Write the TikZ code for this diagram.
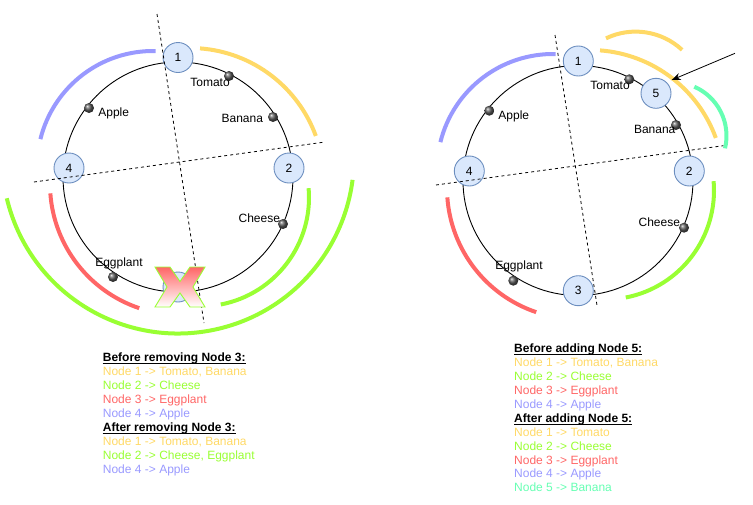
\documentclass[tikz,border=0pt]{standalone}
\usepackage{fontspec}
\setmainfont{Liberation Sans}
\usetikzlibrary{arrows.meta,calc}
\definecolor{cyel}{HTML}{FFD966}
\definecolor{cgrn}{HTML}{99FF33}
\definecolor{cred}{HTML}{FF6666}
\definecolor{cblu}{HTML}{9999FF}
\definecolor{cmint}{HTML}{66FFB3}
\definecolor{nfill}{HTML}{DAE8FC}
\definecolor{nline}{HTML}{6C8EBF}
\begin{document}
\begin{tikzpicture}[x=1pt,y=-1pt,
  ring/.style={draw=black, line width=0.9pt},
  part/.style={line width=4pt},
  divider/.style={draw=black, line width=0.8pt, dash pattern=on 3pt off 3pt},
  hnode/.style={circle, draw=nline, fill=nfill, line width=0.9pt, minimum size=30pt, inner sep=0pt, font=\fontsize{12}{14}\selectfont},
  key/.style={circle, minimum size=10pt, inner sep=0pt, shading=ball, ball color=gray!70!black},
  klabel/.style={anchor=base, inner sep=0pt, font=\fontsize{12}{14}\selectfont},
  txt/.style={anchor=base west, inner sep=0pt, font=\fontsize{12}{14}\selectfont},
  head/.style={txt, font=\fontsize{12}{14}\selectfont\bfseries},
  uline/.style={draw=black, line width=0.9pt},
  cross/.style={draw=cgrn, line width=0.9pt, top color=cred, bottom color=white},
]
\useasboundingbox (0,0) rectangle (753,504);

% ---------------- left diagram ----------------
\draw[ring] (178,177) circle[radius=115];
% arcs
\draw[part, cblu] ($(153,167)+(-88.7:116)$) arc[start angle=-88.7, end angle=-166.1, radius=116];
\draw[part, cyel] ($(190,182)+(-85.7:134)$) arc[start angle=-85.7, end angle=-20.1, radius=134];
\draw[part, cred] ($(181,184)+(175.9:131)$) arc[start angle=175.9, end angle=108.6, radius=131];
\draw[part, cgrn] ($(200,197.5)+(-4.9:109)$) arc[start angle=-4.9, end angle=79, radius=109];
\draw[part, cgrn] ($(178,157.5)+(166.6:176)$) arc[start angle=166.6, end angle=7.3, radius=176];

\node[hnode] (l1) at (178,57.5) {1};
\node[hnode] (l2) at (289,168) {2};
\node[hnode] (l3) at (178,287) {};
\node[hnode] (l4) at (69,168) {4};

\node[key] (ltomato) at (229,76) {};
\node[key] (lbanana) at (273,117) {};
\node[key] (lapple) at (89,108) {};
\node[key] (lcheese) at (283,224) {};
\node[key] (leggplant) at (113,277) {};

\node[klabel] (ltomatot) at (210,86.7) {Tomato};
\node[klabel] (lbananat) at (242.3,122.8) {Banana};
\node[klabel] (lapplet) at (113.7,116) {Apple};
\node[klabel] (lcheeset) at (259.3,222.8) {Cheese};
\node[klabel] (leggplantt) at (119,266.8) {Eggplant};

\coordinate (lda) at (157,14);
\coordinate (ldb) at (204,323);
\coordinate (ldc) at (34,182);
\coordinate (ldd) at (325,142);
\draw[divider] (lda) -- (ldb);
\draw[divider] (ldc) -- (ldd);

% the cross over node 3
\draw[cross] (155,267) -- (170,267) -- (180,281.5) -- (190,267) -- (205,267) -- (193,287)
  -- (205,307) -- (190,307) -- (180,293) -- (170,307) -- (155,307) -- (167,287) -- cycle;

% ---------------- right diagram ----------------
\draw[ring] (578,180.5) circle[radius=115];
\draw[part, cblu] ($(553,170)+(-88.7:116)$) arc[start angle=-88.7, end angle=-166.1, radius=116];
\draw[part, cyel] ($(590,184)+(-85.7:134)$) arc[start angle=-85.7, end angle=-20.1, radius=134];
\draw[part, cyel] ($(635.6,99.9)+(-115.7:68.3)$) arc[start angle=-115.7, end angle=-47.1, radius=68.3];
\draw[part, cmint] ($(672.8,135.9)+(-66.4:53.7)$) arc[start angle=-66.4, end angle=13.4, radius=53.7];
\draw[part, cgrn] ($(605,190.5)+(-4.9:109)$) arc[start angle=-4.9, end angle=79, radius=109];
\draw[part, cred] ($(578,188)+(175.9:131)$) arc[start angle=175.9, end angle=108.6, radius=131];

\node[hnode] (r1) at (578.3,61) {1};
\node[hnode] (r2) at (689.3,171) {2};
\node[hnode] (r3) at (578.3,290.7) {3};
\node[hnode] (r4) at (469.3,171) {4};
\node[hnode] (r5) at (656,93.3) {5};

\node[key] (rtomato) at (629.3,79.3) {};
\node[key] (rbanana) at (676,125) {};
\node[key] (rapple) at (489.3,110.7) {};
\node[key] (rcheese) at (684,227.7) {};
\node[key] (reggplant) at (513.3,280.7) {};

\node[klabel] (rtomatot) at (610,89.3) {Tomato};
\node[klabel] (rbananat) at (654.7,133.3) {Banana};
\node[klabel] (rapplet) at (513.8,119.3) {Apple};
\node[klabel] (rcheeset) at (659.3,226) {Cheese};
\node[klabel] (reggplantt) at (519,269.3) {Eggplant};

\coordinate (rda) at (555,35);
\coordinate (rdb) at (597.3,307.3);
\coordinate (rdc) at (436,185);
\coordinate (rdd) at (723.3,145.7);
\draw[divider] (rda) -- (rdb);
\draw[divider] (rdc) -- (rdd);

\coordinate (arrowtail) at (735,53.3);
\coordinate (arrowtip) at (671.7,80);
\draw[line width=0.8pt, -{Stealth[length=9pt,width=7pt]}] (arrowtail) -- (arrowtip);

% ---------------- text blocks ----------------
\node[head] (lt0) at (102.7,361.8) {Before removing Node 3:};
\node[head] (lt5) at (102.7,431.8) {After removing Node 3:};
\node[head] (rt0) at (514,352.8) {Before adding Node 5:};
\node[head] (rt5) at (514,422.3) {After adding Node 5:};
\foreach \h in {lt0,lt5,rt0,rt5}
  \draw[uline] ([yshift=-2pt]\h.base west) -- ([yshift=-2pt]\h.base east);

\foreach \i/\cc/\lbl [evaluate=\i as \yy using 361.8+14*\i] in {
  1/cyel/{Node 1 -> Tomato, Banana},
  2/cgrn/{Node 2 -> Cheese},
  3/cred/{Node 3 -> Eggplant},
  4/cblu/{Node 4 -> Apple},
  6/cyel/{Node 1 -> Tomato, Banana},
  7/cgrn/{Node 2 -> Cheese, Eggplant},
  8/cblu/{Node 4 -> Apple}}
  \node[txt, text=\cc] (lt\i) at (102.7,\yy) {\lbl};

\foreach \i/\cc/\lbl [evaluate=\i as \yy using 352.8+13.9*\i] in {
  1/cyel/{Node 1 -> Tomato, Banana},
  2/cgrn/{Node 2 -> Cheese},
  3/cred/{Node 3 -> Eggplant},
  4/cblu/{Node 4 -> Apple},
  6/cyel/{Node 1 -> Tomato},
  7/cgrn/{Node 2 -> Cheese},
  8/cred/{Node 3 -> Eggplant},
  9/cblu/{Node 4 -> Apple},
  10/cmint/{Node 5 -> Banana}}
  \node[txt, text=\cc] (rt\i) at (514,\yy) {\lbl};
\end{tikzpicture}
\end{document}
